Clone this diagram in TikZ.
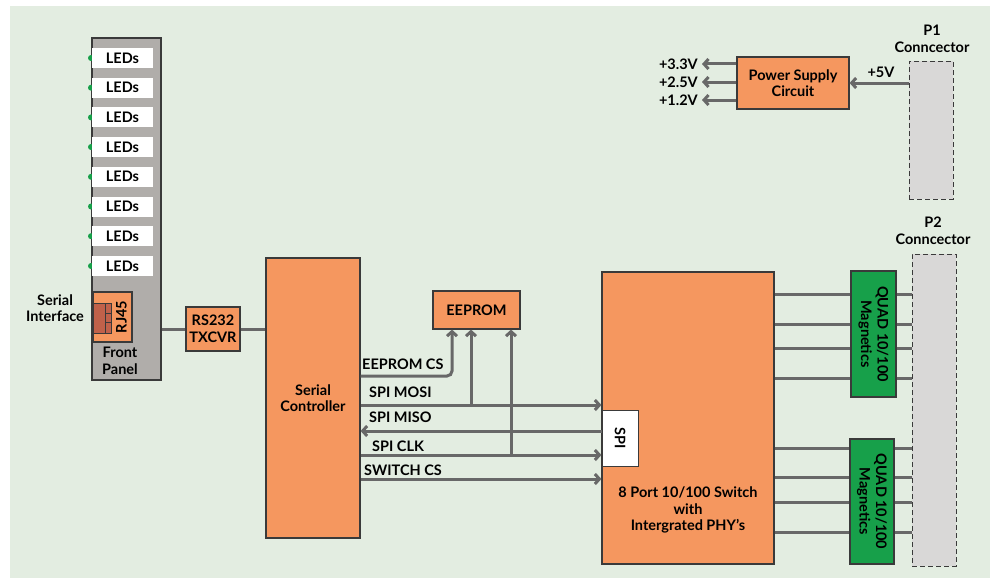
\documentclass[tikz,border=0pt]{standalone}
\usepackage{fontspec}
\setmainfont{Lato}
\usetikzlibrary{arrows.meta}
\definecolor{bgc}{HTML}{E3EDE1}
\definecolor{org}{HTML}{F5975F}
\definecolor{grn}{HTML}{17A04A}
\definecolor{pnl}{HTML}{B0ADAA}
\definecolor{conn}{HTML}{D9D8D7}
\definecolor{lnc}{HTML}{686868}
\definecolor{edg}{HTML}{3A3A3A}
\definecolor{rjc}{HTML}{C0614A}
\begin{document}
\begin{tikzpicture}[x=1pt,y=-1pt,
  every node/.style={font=\fontsize{14.5}{16.5}\selectfont\bfseries, inner sep=0pt, align=center},
  thin text/.style={font=\fontsize{14.5}{16.5}\selectfont\bfseries},
  blk/.style={draw=edg, line width=1.2pt, fill=org},
  ledbox/.style={fill=white, minimum width=61pt, minimum height=20pt},
  magbox/.style={draw=edg, line width=1.2pt, fill=grn, minimum width=45pt, minimum height=126pt},
  connbox/.style={draw=edg, dash pattern=on 5pt off 3pt, line width=0.9pt, fill=conn, minimum width=44pt},
  sig/.style={draw=lnc, line width=3pt},
  arr/.style={sig, -{Straight Barb[length=4.5pt,width=10pt]}}
]
\useasboundingbox (0,0) rectangle (993,578);
\fill[bgc] (10,6) rectangle (990,578);

% Front panel
\node[draw=edg, line width=1.2pt, fill=pnl, minimum width=69pt, minimum height=342pt] (fp) at (126.5,209) {};
\foreach \i/\yy in {1/58,2/87.7,3/117.4,4/147,5/176.8,6/206.5,7/236.2,8/266}{
  \fill[grn] (91,\yy) circle (3pt);
  \node[ledbox] (led\i) at (122.5,\yy) {LEDs};
}
\node[blk, minimum width=39pt, minimum height=50pt] (rj) at (112.5,317) {};
\fill[fill=rjc, draw=edg, line width=0.8pt] (93,303) rectangle (111,333);
\draw[edg, line width=0.8pt] (105,303) -- (105,333) (105,313) -- (111,313) (105,322) -- (111,322);
\node[rotate=90] (rjt) at (121.5,317) {RJ45};
\node[thin text] (fpt) at (120,361) {Front\\Panel};
\node[thin text] (si) at (55,308) {Serial\\Interface};

% RS232 and controller
\node[blk, minimum width=54pt, minimum height=44pt] (rs) at (213,329) {RS232\\TXCVR};
\node[blk, minimum width=94pt, minimum height=280pt] (sc) at (313,398) {Serial\\Controller};
\draw[sig] (fp.east |- rs.west) -- (rs.west);
\draw[sig] (rs.east) -- (sc.west |- rs.east);

% EEPROM
\node[blk, minimum width=87pt, minimum height=38pt] (ee) at (476.5,310) {EEPROM};

% Switch
\node[blk, minimum width=172pt, minimum height=292pt] (sw) at (688,418) {};
\node[thin text] (swt) at (688,510) {8 Port 10/100 Switch\\with\\Intergrated PHY’s};
\node[draw=edg, line width=1pt, fill=white, minimum width=36pt, minimum height=56pt] (spi) at (620,438) {};
\node[rotate=-90] at (spi) {SPI};

% signals
\draw[arr, rounded corners=5pt] (sc.east |- 0,376) -| (452,0 |- ee.south);
\draw[arr] (sc.east |- 0,405) -- (sw.west |- 0,405);
\draw[arr] (471,405) -- (471,0 |- ee.south);
\draw[arr] (spi.west |- 0,431) -- (sc.east |- 0,431);
\draw[arr] (sc.east |- 0,455) -- (sw.west |- 0,455);
\draw[arr] (511,455) -- (511,0 |- ee.south);
\draw[arr] (sc.east |- 0,479) -- (sw.west |- 0,479);
\node[anchor=west] (l1) at (362,364) {EEPROM CS};
\node[anchor=west] (l2) at (369,392) {SPI MOSI};
\node[anchor=west] (l3) at (369,417) {SPI MISO};
\node[anchor=west] (l4) at (372,446) {SPI CLK};
\node[anchor=west] (l5) at (364,470) {SWITCH CS};

% connectors
\node[connbox, minimum height=138pt] (p1) at (931,130) {};
\node[connbox, minimum height=312pt] (p2) at (934,410) {};
\node[thin text] (p1t) at (932,39) {P1\\Conncector};
\node[thin text] (p2t) at (933,231) {P2\\Conncector};

% magnetics
\node[magbox] (m1) at (873.5,334) {};
\node[rotate=-90, thin text] at (m1) {QUAD 10/100\\Magnetics};
\node[magbox, minimum width=44pt, minimum height=125pt] (m2) at (872,501.5) {};
\node[rotate=-90, thin text] at (m2) {QUAD 10/100\\Magnetics};
\foreach \yy in {294,324,348,378}{
  \draw[sig] (sw.east |- 0,\yy) -- (m1.west |- 0,\yy);
  \draw[sig] (m1.east |- 0,\yy) -- (p2.west |- 0,\yy);
}
\foreach \yy in {448,477,502,532}{
  \draw[sig] (sw.east |- 0,\yy) -- (m2.west |- 0,\yy);
  \draw[sig] (m2.east |- 0,\yy) -- (p2.west |- 0,\yy);
}

% power
\node[blk, minimum width=112pt, minimum height=52pt] (ps) at (793,83) {Power Supply\\Circuit};
\draw[arr] (p1.west |- ps.east) -- (ps.east);
\node (v5) at (881,72) {+5V};
\coordinate (o1) at (702,64);
\coordinate (o2) at (702,82);
\coordinate (o3) at (702,100);
\draw[arr] (ps.west |- o1) -- (o1);
\draw[arr] (ps.west |- o2) -- (o2);
\draw[arr] (ps.west |- o3) -- (o3);
\node[anchor=east] (t1) at (698,64) {+3.3V};
\node[anchor=east] (t2) at (698,82) {+2.5V};
\node[anchor=east] (t3) at (698,100) {+1.2V};
\end{tikzpicture}
\end{document}
